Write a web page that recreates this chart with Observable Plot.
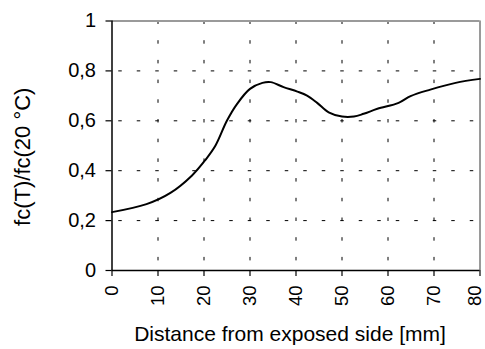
<!DOCTYPE html>
<html>
<head>
<meta charset="utf-8">
<script src="https://cdn.jsdelivr.net/npm/d3@7"></script>
<script src="https://cdn.jsdelivr.net/npm/@observablehq/plot@0.6"></script>
<style>
  html, body { margin: 0; padding: 0; background: #fff; }
  #chart svg { display: block; overflow: visible; }
</style>
</head>
<body>
<div id="chart"></div>
<script>
// Data
const distance = [0, 7.5, 12.7, 17.4, 20.3, 22.5, 25, 27.2, 30, 32.7, 34.5, 37.3, 40.3, 42.4, 44.6, 47.1, 50, 52.6, 54.7, 57.7, 62.3, 64.9, 69.2, 74.7, 80];
const ratio = [0.234, 0.266, 0.311, 0.381, 0.443, 0.501, 0.601, 0.668, 0.728, 0.752, 0.755, 0.735, 0.717, 0.701, 0.672, 0.634, 0.617, 0.617, 0.628, 0.648, 0.672, 0.699, 0.725, 0.752, 0.768];
const xTicks = [0, 10, 20, 30, 40, 50, 60, 70];
const xLastTick = [80];
const yTicks = [0, 0.2, 0.4, 0.6, 0.8, 1];
const xGrid = [10, 20, 30, 40, 50, 60, 70];
const yGrid = [0.2, 0.4, 0.6, 0.8];
const xTitle = "Distance from exposed side [mm]";
const yTitle = "fc(T)/fc(20 °C)";

const data = distance.map((d, i) => ({x: d, y: ratio[i]}));
const fmt = d => String(d).replace(".", ",");
const xAxisOpts = {tickFormat: d => String(d), tickRotate: -90, tickSize: 6, tickPadding: 9, fontSize: 18.5, label: null, stroke: "#000", strokeWidth: 1.2};

const chart = Plot.plot({
  width: 485,
  height: 349,
  marginLeft: 111.5,
  marginRight: 5.5,
  marginTop: 20.5,
  marginBottom: 79,
  style: {fontFamily: "'Liberation Sans', Arial, sans-serif", fontSize: "20px", background: "#fff", color: "#000", overflow: "visible"},
  x: {domain: [0, 80]},
  y: {domain: [0, 1]},
  marks: [
    Plot.ruleY(yGrid, {stroke: "#000", strokeWidth: 1, strokeDasharray: "3.5,15", strokeDashoffset: 11.75}),
    Plot.ruleX(xGrid, {stroke: "#000", strokeWidth: 1, strokeDasharray: "3.5,16.2"}),
    Plot.ruleY([1], {stroke: "#9a9a9a", strokeWidth: 2}),
    Plot.ruleX([80], {stroke: "#9a9a9a", strokeWidth: 2}),
    Plot.ruleX([0], {stroke: "#000", strokeWidth: 1.5}),
    Plot.ruleY([0], {stroke: "#000", strokeWidth: 1.5}),
    Plot.axisY({ticks: yTicks, tickFormat: fmt, tickSize: 6, tickPadding: 10, fontSize: 20, label: null, stroke: "#000", strokeWidth: 1.2}),
    Plot.axisX({ticks: xTicks, ...xAxisOpts}),
    Plot.axisX({ticks: xLastTick, ...xAxisOpts, tickFormat: () => ""}),
    Plot.axisX({ticks: xLastTick, ...xAxisOpts, tickSize: 0, tickPadding: 15, dx: -5}),
    Plot.line(data, {x: "x", y: "y", curve: "catmull-rom", stroke: "#000", strokeWidth: 2}),
    Plot.text([xTitle], {frameAnchor: "bottom", textAnchor: "middle", dx: -6, dy: 64, fontSize: 21, fill: "#000", lineAnchor: "middle"}),
    Plot.text([yTitle], {frameAnchor: "left", textAnchor: "middle", rotate: -90, dx: -89, dy: 11, fontSize: 22, fill: "#000", lineAnchor: "middle"})
  ]
});
document.getElementById("chart").appendChild(chart);
</script>
</body>
</html>
